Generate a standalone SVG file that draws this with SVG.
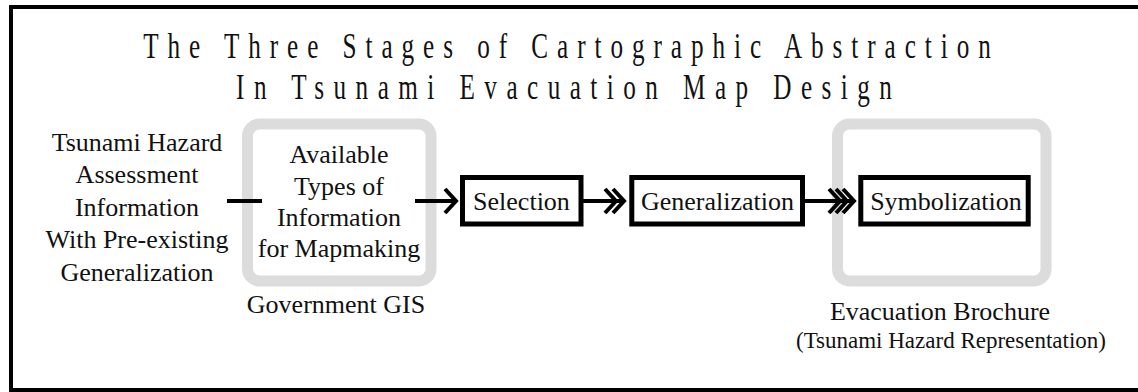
<svg xmlns="http://www.w3.org/2000/svg" width="1138" height="392" viewBox="0 0 1138 392">
<style>
text{font-family:'Liberation Serif','Times New Roman',serif;fill:#111;text-anchor:middle}
.lbl{font-size:26px}
.small{font-size:23px}
.title{font-size:36px}
.grp{fill:none;stroke:#dcdcdc;stroke-width:11}
.box{fill:#fff;stroke:#000;stroke-width:5}
.ln{stroke:#000;stroke-width:4;fill:none}
.chev{stroke:#000;stroke-width:4;fill:none;stroke-linejoin:miter}
</style>
<rect width="1138" height="392" fill="#fff"/>
<rect x="11" y="7" width="1140" height="383" fill="none" stroke="#000" stroke-width="4"/>
<g id="title">
<text class="title" transform="translate(567,58) scale(0.7,1)" x="0" y="0" textLength="1211" lengthAdjust="spacing">The Three Stages of Cartographic Abstraction</text>
<text class="title" transform="translate(564,99) scale(0.7,1)" x="0" y="0" textLength="937" lengthAdjust="spacing">In Tsunami Evacuation Map Design</text>
</g>
<g id="source">
<text class="lbl" x="137" y="151">Tsunami Hazard</text>
<text class="lbl" x="137" y="183">Assessment</text>
<text class="lbl" x="137" y="216">Information</text>
<text class="lbl" x="137" y="248">With Pre-existing</text>
<text class="lbl" x="137" y="281">Generalization</text>
</g>
<g id="government-gis">
<rect class="grp" x="247.5" y="124" width="183.5" height="157" rx="12"/>
<text class="lbl" x="339" y="163">Available</text>
<text class="lbl" x="339" y="195">Types of</text>
<text class="lbl" x="339" y="226">Information</text>
<text class="lbl" x="339" y="257">for Mapmaking</text>
<text class="lbl" x="336" y="313">Government GIS</text>
</g>
<g id="evacuation-brochure">
<rect class="grp" x="837.5" y="124" width="208.5" height="157" rx="12"/>
<text class="lbl" x="940" y="320">Evacuation Brochure</text>
<text class="small" x="951" y="348">(Tsunami Hazard Representation)</text>
</g>
<g id="selection">
<rect class="box" x="462.5" y="177.5" width="118.5" height="46.5"/>
<text class="lbl" x="521.5" y="210">Selection</text>
</g>
<g id="generalization">
<rect class="box" x="631.8" y="177.5" width="170.7" height="46.5"/>
<text class="lbl" x="717.5" y="210">Generalization</text>
</g>
<g id="symbolization">
<rect class="box" x="860.8" y="177.5" width="167.4" height="46.5"/>
<text class="lbl" x="946" y="210">Symbolization</text>
</g>
<g id="connectors">
<line class="ln" x1="227" y1="201" x2="262" y2="201"/>
<line class="ln" x1="415" y1="201" x2="456" y2="201"/>
<polyline class="chev" points="445,189 456,201 445,213"/>
<line class="ln" x1="583" y1="201" x2="624" y2="201"/>
<polyline class="chev" points="605,189 616,201 605,213"/>
<polyline class="chev" points="613,189 624,201 613,213"/>
<line class="ln" x1="805" y1="201" x2="854" y2="201"/>
<polyline class="chev" points="829,189 840,201 829,213"/>
<polyline class="chev" points="836,189 847,201 836,213"/>
<polyline class="chev" points="843,189 854,201 843,213"/>
</g>
</svg>
